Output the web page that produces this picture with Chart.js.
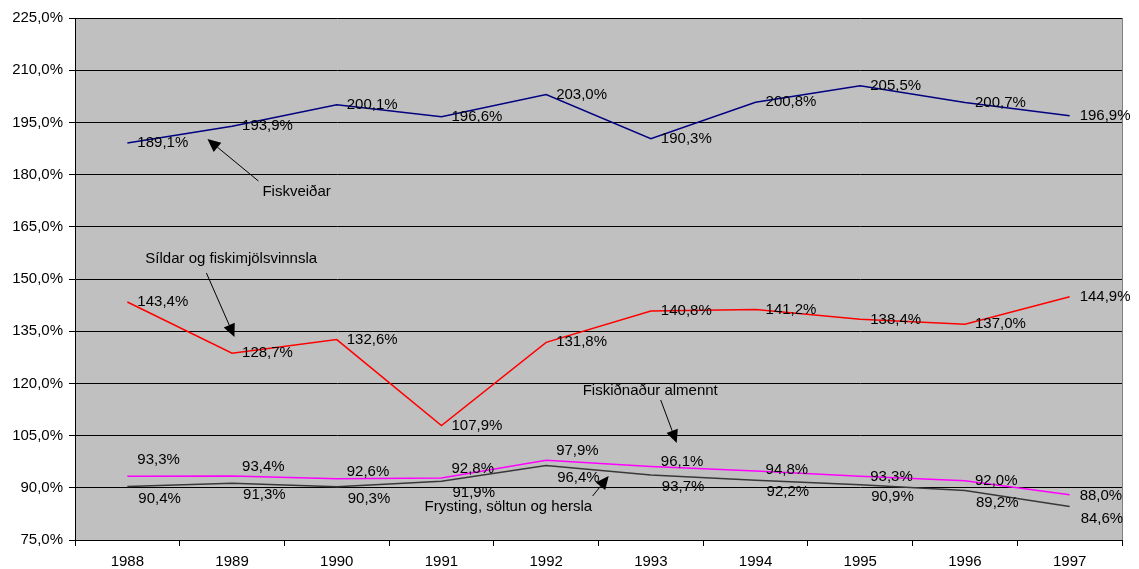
<!DOCTYPE html>
<html>
<head>
<meta charset="utf-8">
<script src="https://cdn.jsdelivr.net/npm/chart.js@4"></script>
<style>
html,body{margin:0;padding:0;background:#fff;}
#wrap{width:1139px;height:569px;}
</style>
</head>
<body>
<div id="wrap"><canvas id="c" width="1139" height="569"></canvas></div>
<script>
const years = ['1988','1989','1990','1991','1992','1993','1994','1995','1996','1997'];
const fiskveidar = [189.1, 193.9, 200.1, 196.6, 203.0, 190.3, 200.8, 205.5, 200.7, 196.9];
const sildar = [143.4, 128.7, 132.6, 107.9, 131.8, 140.8, 141.2, 138.4, 137.0, 144.9];
const fiskidnadur = [93.3, 93.4, 92.6, 92.8, 97.9, 96.1, 94.8, 93.3, 92.0, 88.0];
const frysting = [90.4, 91.3, 90.3, 91.9, 96.4, 93.7, 92.2, 90.9, 89.2, 84.6];
const yMin = 75, yMax = 225, yStep = 15;

const FAMILY = '"Liberation Sans", Arial, sans-serif';
const FONT = '15px ' + FAMILY;
const fmt = v => v.toFixed(1).replace('.', ',') + '%';

// annotations in data coordinates (category index, value)
const notes = [
  {text:'Fiskveiðar', x:1.29, y:175.0, from:[1.252,178.16], to:[0.765,190.23]},
  {text:'Síldar og fiskimjölsvinnsla', x:0.172, y:155.75, from:[0.755,151.72], to:[1.023,133.33]},
  {text:'Fiskiðnaður almennt', x:4.349, y:117.82, from:[5.094,115.23], to:[5.247,102.87]},
  {text:'Frysting, söltun og hersla', x:2.839, y:84.48, from:[4.444,87.64], to:[4.597,93.39]}
];

const bgPlugin = {
  id:'bg',
  beforeDraw(chart){
    const {ctx, chartArea:a} = chart;
    ctx.save();
    ctx.fillStyle = '#C0C0C0';
    ctx.fillRect(a.left, a.top, a.right-a.left, a.bottom-a.top);
    ctx.restore();
  },
  beforeDatasetsDraw(chart){
    const {ctx, chartArea:a} = chart;
    ctx.save();
    ctx.strokeStyle = '#808080';
    ctx.lineWidth = 1;
    ctx.beginPath();
    ctx.moveTo(a.right+0.5, a.top);
    ctx.lineTo(a.right+0.5, a.bottom);
    ctx.stroke();
    ctx.restore();
  }
};

const labelPlugin = {
  id:'vlabels',
  afterDatasetsDraw(chart){
    const {ctx} = chart;
    ctx.save();
    ctx.font = FONT;
    ctx.fillStyle = '#000';
    ctx.textAlign = 'left';
    ctx.textBaseline = 'middle';
    chart.data.datasets.forEach((ds, di) => {
      const meta = chart.getDatasetMeta(di);
      const dys = ds.labelDy || [];
      meta.data.forEach((pt, i) => {
        const dy = Array.isArray(dys) ? (dys[i] || 0) : dys;
        ctx.fillText(fmt(ds.data[i]), pt.x + (ds.labelDx || 10), pt.y + dy);
      });
    });
    ctx.restore();
  }
};

const notePlugin = {
  id:'notes',
  afterDraw(chart){
    const {ctx, scales:{x, y}} = chart;
    ctx.save();
    ctx.font = FONT;
    ctx.fillStyle = '#000';
    ctx.strokeStyle = '#000';
    ctx.lineWidth = 1;
    ctx.textAlign = 'left';
    ctx.textBaseline = 'middle';
    notes.forEach(n => {
      ctx.fillText(n.text, x.getPixelForValue(n.x), y.getPixelForValue(n.y));
      const x1 = x.getPixelForValue(n.from[0]), y1 = y.getPixelForValue(n.from[1]);
      const x2 = x.getPixelForValue(n.to[0]), y2 = y.getPixelForValue(n.to[1]);
      const ang = Math.atan2(y2-y1, x2-x1);
      const L = 13, W = 6;
      const bx = x2 - L*Math.cos(ang), by = y2 - L*Math.sin(ang);
      ctx.beginPath();
      ctx.moveTo(x1, y1);
      ctx.lineTo(bx, by);
      ctx.stroke();
      ctx.beginPath();
      ctx.moveTo(x2, y2);
      ctx.lineTo(bx + W*Math.sin(ang), by - W*Math.cos(ang));
      ctx.lineTo(bx - W*Math.sin(ang), by + W*Math.cos(ang));
      ctx.closePath();
      ctx.fill();
    });
    ctx.restore();
  }
};

new Chart(document.getElementById('c'), {
  type:'line',
  data:{
    labels: years,
    datasets:[
      {label:'Fiskveiðar', data:fiskveidar, borderColor:'#000080', labelDy:0},
      {label:'Síldar og fiskimjölsvinnsla', data:sildar, borderColor:'#FF0000', labelDy:0},
      {label:'Fiskiðnaður almennt', data:fiskidnadur, borderColor:'#FF00FF', labelDy:[-16,-9,-7,-9,-9,-5,-1,1,0,1]},
      {label:'Frysting, söltun og hersla', data:frysting, borderColor:'#383838', labelDy:12, labelDx:11}
    ]
  },
  options:{
    responsive:false,
    animation:false,
    events:[],
    layout:{padding:{top:18, right:17, left:0, bottom:0}},
    elements:{
      line:{borderWidth:1.5, tension:0, fill:false},
      point:{radius:0, hoverRadius:0}
    },
    plugins:{legend:{display:false}, tooltip:{enabled:false}, title:{display:false}},
    scales:{
      x:{
        offset:true,
        grid:{offset:true, drawOnChartArea:false, drawTicks:true, tickLength:6, color:'#000'},
        border:{color:'#000', width:1},
        ticks:{color:'#000', font:{family:FAMILY, size:15}, padding:7, maxRotation:0, autoSkip:false},
        afterFit(s){ s.height = 29; }
      },
      y:{
        min:yMin, max:yMax,
        grid:{color:'#000', lineWidth:1, drawTicks:true, tickLength:6},
        border:{color:'#000', width:1},
        ticks:{stepSize:yStep, color:'#000', font:{family:FAMILY, size:15}, padding:6, callback:v => fmt(v)},
        afterFit(s){ s.width = 75; }
      }
    }
  },
  plugins:[bgPlugin, labelPlugin, notePlugin]
});
</script>
</body>
</html>
